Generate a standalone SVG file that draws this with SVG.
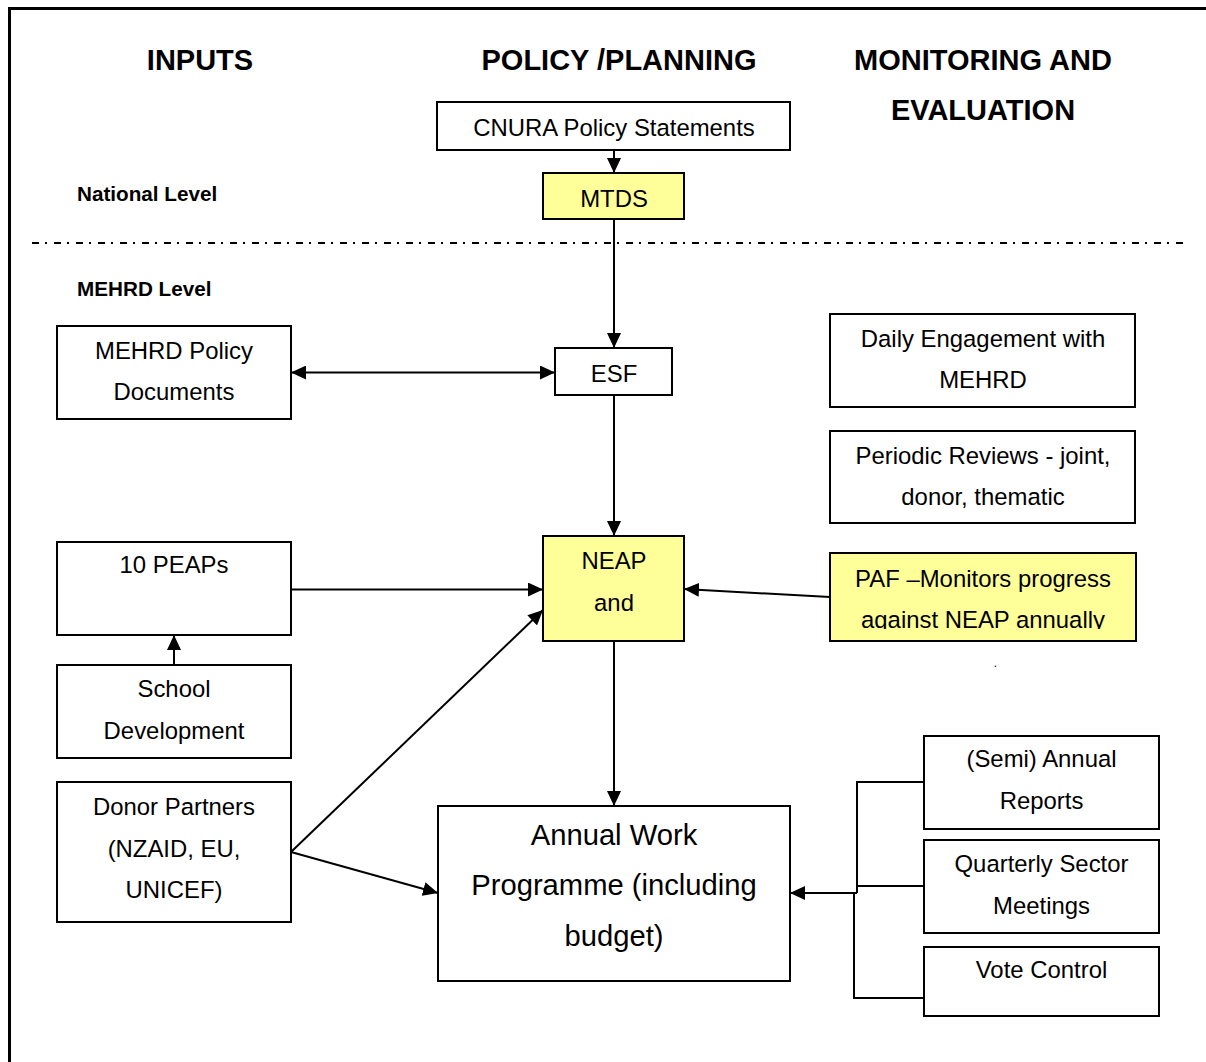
<svg xmlns="http://www.w3.org/2000/svg" width="1206" height="1062" viewBox="0 0 1206 1062">
<style>
  .box { fill: #ffffff; stroke: #000000; stroke-width: 2; }
  .hl { fill: #ffff99; stroke: #000000; stroke-width: 2; }
  .t { font-family: "Liberation Sans", Arial, sans-serif; font-size: 23.9px; fill: #000; text-anchor: middle; }
  .big { font-family: "Liberation Sans", Arial, sans-serif; font-size: 29.2px; fill: #000; text-anchor: middle; }
  .hd { font-family: "Liberation Sans", Arial, sans-serif; font-size: 29px; font-weight: bold; fill: #000; text-anchor: middle; }
  .lvl { font-family: "Liberation Sans", Arial, sans-serif; font-size: 20.7px; font-weight: bold; fill: #000; }
  .ln { fill: none; stroke: #000; stroke-width: 2; }
  .arr { fill: none; stroke: #000; stroke-width: 2; marker-end: url(#ah); }
</style>
<defs>
  <marker id="ah" markerUnits="userSpaceOnUse" markerWidth="15" markerHeight="14" refX="15" refY="7" orient="auto-start-reverse" viewBox="0 0 15 14">
    <path d="M0,0 L15,7 L0,14 z" fill="#000"/>
  </marker>
  <clipPath id="pafclip"><rect x="830" y="553" width="306" height="76"/></clipPath>
</defs>
<rect width="1206" height="1062" fill="#ffffff"/>
<!-- frame -->
<path d="M9.5,1062 V8.5 H1206" fill="none" stroke="#000" stroke-width="3"/>

<g id="headers">
  <text class="hd" x="200" y="70">INPUTS</text>
  <text class="hd" x="619" y="70">POLICY /PLANNING</text>
  <text class="hd" x="983" y="70">MONITORING AND</text>
  <text class="hd" x="983" y="120">EVALUATION</text>
  <text class="lvl" x="77" y="201">National Level</text>
  <text class="lvl" x="77" y="296">MEHRD Level</text>
</g>

<line x1="32" y1="243" x2="1183" y2="243" stroke="#000" stroke-width="2" stroke-dasharray="7 6 2 7"/>

<g id="connectors">
  <line class="arr" x1="614" y1="150" x2="614" y2="173"/>
  <line class="arr" x1="614" y1="219" x2="614" y2="348"/>
  <line class="arr" x1="291" y1="372.5" x2="555" y2="372.5" marker-start="url(#ah)"/>
  <line class="arr" x1="614" y1="395" x2="614" y2="536"/>
  <line class="arr" x1="291" y1="589.5" x2="543" y2="589.5"/>
  <line class="arr" x1="174" y1="665" x2="174" y2="635"/>
  <line class="arr" x1="830" y1="597" x2="684" y2="589"/>
  <line class="arr" x1="291" y1="852" x2="543" y2="610"/>
  <line class="arr" x1="291" y1="852" x2="438" y2="893"/>
  <line class="arr" x1="614" y1="641" x2="614" y2="806"/>
  <line class="arr" x1="857" y1="893" x2="790" y2="893"/>
  <path class="ln" d="M924,782 H857 V893"/>
  <path class="ln" d="M924,886 H857"/>
  <path class="ln" d="M924,998 H854 V893 H857"/>
</g>

<g id="cnura">
  <rect class="box" x="437" y="102" width="353" height="48"/>
  <text class="t" x="614" y="135.5">CNURA Policy Statements</text>
</g>
<g id="mtds">
  <rect class="hl" x="543" y="173" width="141" height="46"/>
  <text class="t" x="614" y="206.5">MTDS</text>
</g>
<g id="mehrd-policy">
  <rect class="box" x="57" y="326" width="234" height="93"/>
  <text class="t" x="174" y="358.5">MEHRD Policy</text>
  <text class="t" x="174" y="400">Documents</text>
</g>
<g id="esf">
  <rect class="box" x="555" y="348" width="117" height="47"/>
  <text class="t" x="614" y="382">ESF</text>
</g>
<g id="daily">
  <rect class="box" x="830" y="314" width="305" height="93"/>
  <text class="t" x="983" y="347">Daily Engagement with</text>
  <text class="t" x="983" y="388">MEHRD</text>
</g>
<g id="periodic">
  <rect class="box" x="830" y="431" width="305" height="92"/>
  <text class="t" x="983" y="464">Periodic Reviews - joint,</text>
  <text class="t" x="983" y="505">donor, thematic</text>
</g>
<g id="peaps">
  <rect class="box" x="57" y="542" width="234" height="93"/>
  <text class="t" x="174" y="573">10 PEAPs</text>
</g>
<g id="neap">
  <rect class="hl" x="543" y="536" width="141" height="105"/>
  <text class="t" x="614" y="569">NEAP</text>
  <text class="t" x="614" y="611">and</text>
</g>
<g id="paf">
  <rect class="hl" x="830" y="553" width="306" height="88"/>
  <g clip-path="url(#pafclip)">
    <text class="t" x="983" y="587">PAF –Monitors progress</text>
    <text class="t" x="983" y="628">against NEAP annually</text>
  </g>
</g>
<text class="t" x="995.5" y="667" style="font-size:12px">.</text>
<g id="school">
  <rect class="box" x="57" y="665" width="234" height="93"/>
  <text class="t" x="174" y="697">School</text>
  <text class="t" x="174" y="739">Development</text>
</g>
<g id="donor">
  <rect class="box" x="57" y="782" width="234" height="140"/>
  <text class="t" x="174" y="815">Donor Partners</text>
  <text class="t" x="174" y="857">(NZAID, EU,</text>
  <text class="t" x="174" y="898">UNICEF)</text>
</g>
<g id="awp">
  <rect class="box" x="438" y="806" width="352" height="175"/>
  <text class="big" x="614" y="845">Annual Work</text>
  <text class="big" x="614" y="895">Programme (including</text>
  <text class="big" x="614" y="946">budget)</text>
</g>
<g id="semi">
  <rect class="box" x="924" y="736" width="235" height="93"/>
  <text class="t" x="1041.5" y="767">(Semi) Annual</text>
  <text class="t" x="1041.5" y="809">Reports</text>
</g>
<g id="quarterly">
  <rect class="box" x="924" y="840" width="235" height="93"/>
  <text class="t" x="1041.5" y="872">Quarterly Sector</text>
  <text class="t" x="1041.5" y="914">Meetings</text>
</g>
<g id="vote">
  <rect class="box" x="924" y="947" width="235" height="69"/>
  <text class="t" x="1041.5" y="978">Vote Control</text>
</g>
</svg>
